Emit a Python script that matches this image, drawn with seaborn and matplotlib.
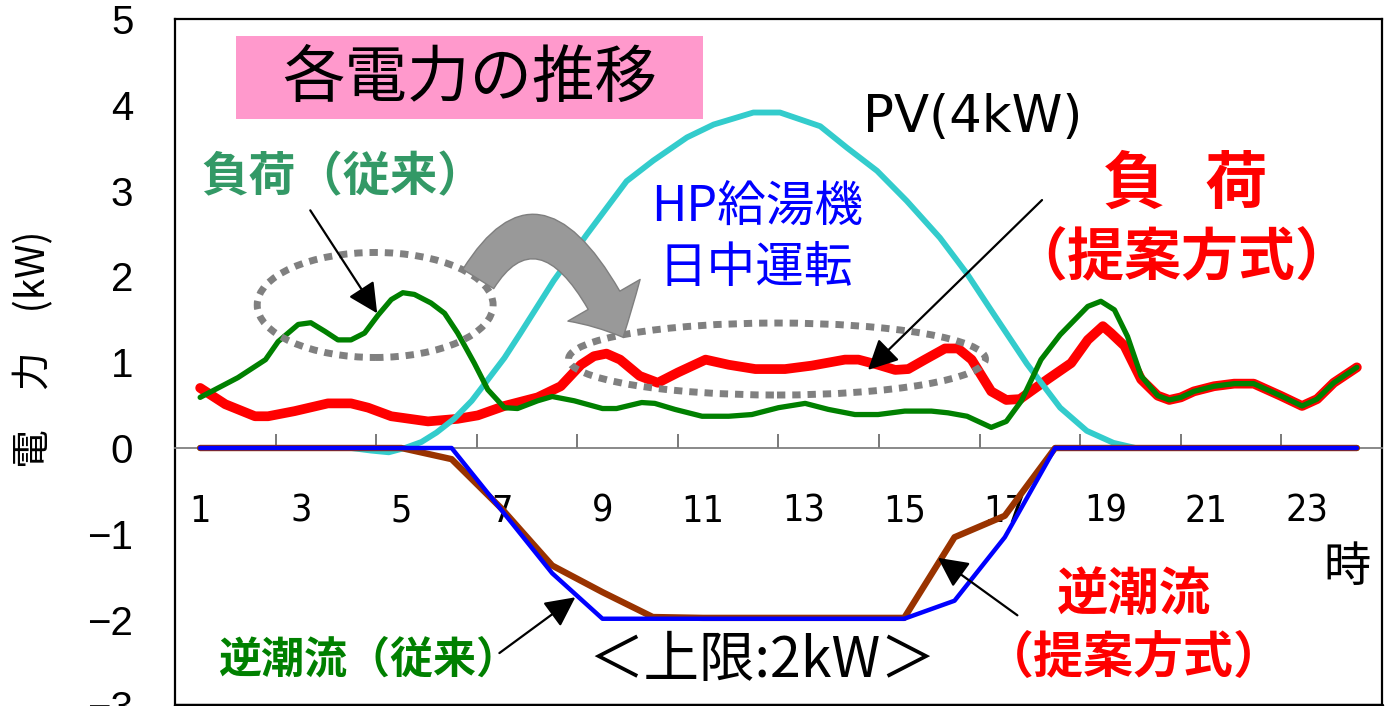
import matplotlib
matplotlib.use("Agg")
import matplotlib.pyplot as plt
from matplotlib import font_manager
from matplotlib.patches import Ellipse, Rectangle, FancyArrowPatch
import seaborn as sns

# Data -----------------------------------------------------------------------
# PV output (4kW)
pv_h = [1, 2, 3, 4.0, 4.4, 4.75, 5.07, 5.4, 5.7, 6.05, 6.4, 6.7, 7.05, 7.36,
        8.03, 8.69, 9.48, 10.01, 10.68, 11.21, 12.0, 12.53, 12.93, 13.33,
        13.86, 14.46, 15.05, 15.71, 16.25, 16.78, 17.44, 18.1, 18.63, 19.16,
        19.6, 20, 21, 22, 23, 24]
pv_kw = [0, 0, 0, 0, -0.03, -0.05, 0.0, 0.07, 0.18, 0.34, 0.55, 0.78, 1.05,
         1.33, 1.95, 2.49, 3.11, 3.35, 3.62, 3.77, 3.91, 3.91, 3.83, 3.75,
         3.5, 3.23, 2.88, 2.45, 2.03, 1.56, 0.98, 0.47, 0.2, 0.06,
         0.0, 0, 0, 0, 0, 0]

# load, conventional
load_old_h = [1.0, 1.75, 2.3, 2.55, 2.95, 3.2, 3.48, 3.74, 4.0, 4.27, 4.54,
              4.8, 5.03, 5.26, 5.59, 5.86, 6.12, 6.45, 6.72, 7.05, 7.31, 7.71,
              8.0, 8.44, 9.0, 9.28, 9.78, 10.04, 10.44, 10.98, 11.51, 11.97,
              12.5, 13.03, 13.49, 14.02, 14.48, 15.01, 15.54, 15.87, 16.25,
              16.73, 17.03, 17.33, 17.72, 18.1, 18.65, 18.91, 19.18, 19.44,
              19.71, 20.04, 20.27, 20.5, 20.76, 21.16, 21.56, 21.95, 22.48,
              22.91, 23.21, 23.54, 24.0]
load_old_kw = [0.59, 0.82, 1.03, 1.24, 1.44, 1.46, 1.36, 1.26, 1.26, 1.34,
               1.55, 1.73, 1.81, 1.79, 1.69, 1.57, 1.34, 0.99, 0.68, 0.47,
               0.46, 0.55, 0.60, 0.55, 0.46, 0.46, 0.53, 0.52, 0.45, 0.37,
               0.37, 0.39, 0.47, 0.52, 0.45, 0.39, 0.39, 0.43, 0.43, 0.41,
               0.37, 0.24, 0.31, 0.55, 1.03, 1.32, 1.65, 1.71, 1.61, 1.30,
               0.84, 0.61, 0.56, 0.59, 0.66, 0.72, 0.75, 0.75, 0.61,
               0.49, 0.57, 0.76, 0.94]

# load, proposed method
load_new_h = [1.0, 1.5, 2.09, 2.35, 2.88, 3.54, 4.0, 4.34, 4.8, 5.53, 6.12,
              6.52, 7.05, 7.71, 8.17, 8.57, 8.83, 9.08, 9.35, 9.74, 10.1,
              10.5, 11.05, 11.51, 12.04, 12.63, 13.16, 13.82, 14.09, 14.48,
              14.82, 15.08, 15.41, 15.81, 16.07, 16.34, 16.73, 17.03, 17.3,
              17.85, 18.32, 18.65, 18.95, 19.11, 19.38, 19.71, 20.04, 20.27,
              20.5, 20.76, 21.16, 21.56, 21.95, 22.48, 22.91, 23.21, 23.54,
              24.0]
load_new_kw = [0.70, 0.51, 0.37, 0.37, 0.43, 0.52, 0.52, 0.47, 0.37, 0.31,
               0.34, 0.38, 0.49, 0.59, 0.72, 0.97, 1.07, 1.10, 1.03, 0.84,
               0.76, 0.88, 1.03, 0.97, 0.92, 0.92, 0.96, 1.03, 1.03, 0.97,
               0.91, 0.92, 1.03, 1.16, 1.16, 1.03, 0.66, 0.56, 0.57, 0.80,
               0.99, 1.26, 1.42, 1.34, 1.19, 0.80, 0.61, 0.56, 0.59, 0.66,
               0.72, 0.75, 0.75, 0.61, 0.49, 0.57, 0.76, 0.94]

# reverse power flow (hourly)
hours = list(range(1, 25))
rev_old = [0, 0, 0, 0, 0, -0.13, -0.71, -1.37, -1.68, -1.97, -1.98, -1.98,
           -1.98, -1.98, -1.98, -1.04, -0.79, 0, 0, 0, 0, 0, 0, 0]
rev_new = [0, 0, 0, 0, 0, 0, -0.73, -1.46, -1.99, -1.99, -1.99, -1.99,
           -1.99, -1.99, -1.99, -1.78, -1.04, 0, 0, 0, 0, 0, 0, 0]

xlabels = [str(h) for h in range(1, 24, 2)]

# Style ----------------------------------------------------------------------
c_pv = "#33CCCC"
c_old = "#008000"
c_new = "#FF0000"
c_rev_old = "#993300"
c_rev_new = "#0000FF"
c_gray = "#808080"

sns.set_style("white")
plt.rcParams["font.family"] = ["Noto Sans CJK JP", "DejaVu Sans"]
plt.rcParams["text.color"] = "black"
plt.rcParams["axes.labelcolor"] = "black"

names = {f.name for f in font_manager.fontManager.ttflist}
narrow = "Liberation Sans Narrow" if "Liberation Sans Narrow" in names else "DejaVu Sans"

fig, ax = plt.subplots(figsize=(13.86, 7.06), dpi=100)
ax.set_position([175 / 1386, 1 - 705.4 / 706, 1207 / 1386, 686.4 / 706])

line_kw = dict(solid_capstyle="round", solid_joinstyle="round", legend=False)
sns.lineplot(x=load_new_h, y=load_new_kw, color=c_new, lw=7, ax=ax, zorder=3, **line_kw)
sns.lineplot(x=pv_h, y=pv_kw, color=c_pv, lw=4.2, ax=ax, zorder=4, **line_kw)
sns.lineplot(x=load_old_h, y=load_old_kw, color=c_old, lw=3.8, ax=ax, zorder=5, **line_kw)
sns.lineplot(x=hours, y=rev_old, color=c_rev_old, lw=4.6, ax=ax, zorder=6, **line_kw)
sns.lineplot(x=hours, y=rev_new, color=c_rev_new, lw=3.2, ax=ax, zorder=7, **line_kw)

# Axes ------------------------------------------------------------------------
ax.set_xlim(0.5, 24.5)
ax.set_ylim(-3, 5)
ax.set_xlabel("")

ax.spines["bottom"].set_position(("data", 0))
ax.spines["bottom"].set_color(c_gray)
ax.spines["bottom"].set_linewidth(1.3)
for s in ["left", "top", "right"]:
    ax.spines[s].set_color("black")
    ax.spines[s].set_linewidth(1.6)
ax.plot([0, 1], [0, 0], transform=ax.transAxes, color="black", lw=2.5, clip_on=False)

ax.set_xticks(range(1, 24, 2))
ax.set_xticklabels(xlabels, fontsize=27, family=[narrow, "DejaVu Sans"],
                   fontstretch="condensed")
ax.set_xticks([x + 0.5 for x in range(2, 23, 2)], minor=True)
ax.tick_params(axis="x", which="major", length=0, pad=33, labelcolor="black")
ax.tick_params(axis="x", which="minor", direction="in", length=10, width=1.1,
               color="#555555", bottom=True)

ax.set_yticks(range(-3, 6))
ax.tick_params(axis="y", direction="in", length=12, width=1.1, color="#555555",
               pad=30, labelsize=29, labelcolor="black")
for lab in ax.get_yticklabels():
    lab.set_family(["Liberation Sans", "DejaVu Sans"])

ax.set_ylabel("電　力　(kW)", fontsize=28)
ax.yaxis.set_label_coords(-0.10, 0.519)

# Annotations ------------------------------------------------------------------
ax.add_patch(Rectangle((1.716, 3.834), 9.286, 0.968, facecolor="#FF99CC",
                       edgecolor="none", zorder=2))
ax.text(6.36, 4.30, "各電力の推移", fontsize=45, ha="center", va="center", zorder=9)

ax.text(16.37, 3.85, "PV(4kW)", fontsize=37, family="DejaVu Sans",
        ha="center", va="center")
ax.text(3.85, 3.15, "負荷（従来）", fontsize=34, color="#339966",
        fontweight="bold", ha="center", va="center")
ax.text(12.08, 2.81, "HP給湯機", fontsize=35, color="#0000FF",
        ha="center", va="center")
ax.text(12.04, 2.09, "日中運転", fontsize=35, color="#0000FF",
        ha="center", va="center")
ax.text(19.57, 3.07, "負", fontsize=45, color=c_new, fontweight="bold",
        ha="center", va="center")
ax.text(21.6, 3.07, "荷", fontsize=45, color=c_new, fontweight="bold",
        ha="center", va="center")
ax.text(20.51, 2.21, "（提案方式）", fontsize=41, color=c_new,
        fontweight="bold", ha="center", va="center")
ax.text(4.35, -2.46, "逆潮流（従来）", fontsize=31, color=c_old,
        fontweight="bold", ha="center", va="center")
ax.text(12.18, -2.48, "＜上限:2kW＞", fontsize=40, ha="center", va="center")
ax.text(19.57, -1.71, "逆潮流", fontsize=37, color=c_new, fontweight="bold",
        ha="center", va="center")
ax.text(19.57, -2.45, "（提案方式）", fontsize=36, color=c_new,
        fontweight="bold", ha="center", va="center")
ax.text(23.81, -1.39, "時", fontsize=34, ha="center", va="center")

# dotted ellipses
ax.add_patch(Ellipse((4.48, 1.667), 4.69, 1.224, fill=False, edgecolor=c_gray,
                     lw=5, linestyle=(0, (1.2, 1.0)), zorder=8))
ax.add_patch(Ellipse((12.47, 1.037), 8.29, 0.839, fill=False, edgecolor=c_gray,
                     lw=5, linestyle=(0, (1.2, 1.0)), zorder=8))

# big curved arrow
ax.add_patch(FancyArrowPatch((6.53, 1.97), (9.41, 1.29),
                             connectionstyle="angle3,angleA=58,angleB=115",
                             arrowstyle="simple,head_length=1.2,head_width=2.4,tail_width=1.05",
                             mutation_scale=25, facecolor="#999999",
                             edgecolor="#7f7f7f", lw=1, shrinkA=0, shrinkB=0,
                             zorder=9))

# pointer arrows
arrow_kw = dict(arrowstyle="-|>,head_length=0.4,head_width=0.2", color="black",
                lw=1.6, mutation_scale=46, shrinkA=0, shrinkB=0)
ax.annotate("", xy=(4.52, 1.57), xytext=(3.19, 2.77), arrowprops=arrow_kw, zorder=10)
ax.annotate("", xy=(14.28, 0.91), xytext=(17.74, 2.89), arrowprops=arrow_kw, zorder=10)
ax.annotate("", xy=(8.46, -1.74), xytext=(6.95, -2.39), arrowprops=arrow_kw, zorder=10)
ax.annotate("", xy=(15.67, -1.28), xytext=(17.25, -1.95), arrowprops=arrow_kw, zorder=10)

fig.savefig("out.png", dpi=100)
